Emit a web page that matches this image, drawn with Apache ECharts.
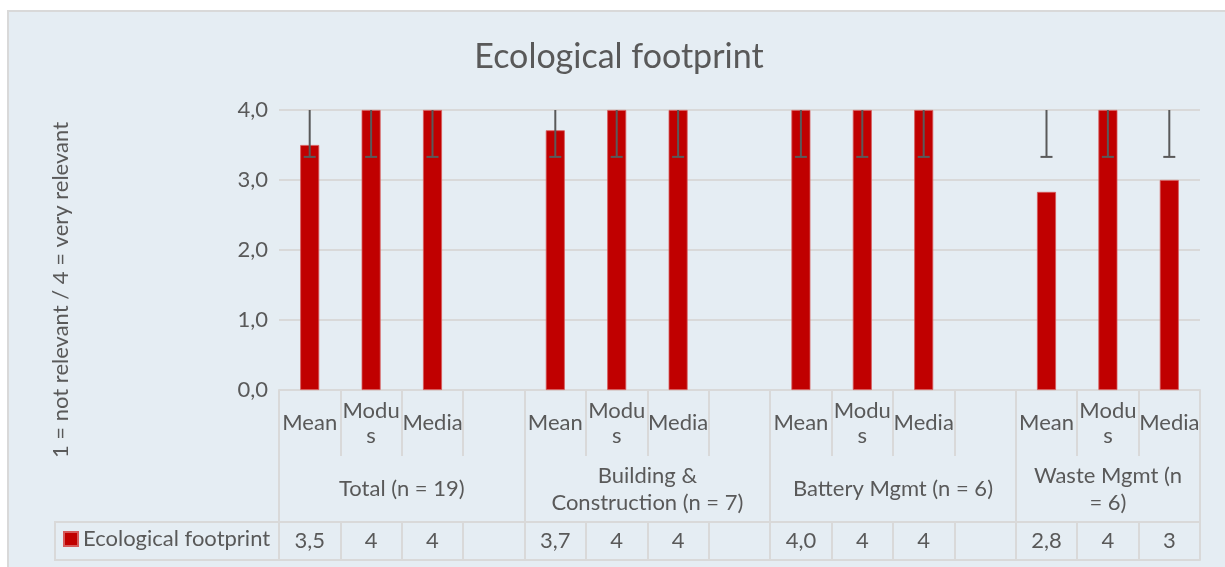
<!DOCTYPE html>
<html><head><meta charset="utf-8">
<script src="https://cdn.jsdelivr.net/npm/echarts@6/dist/echarts.min.js"></script>
<style>html,body{margin:0;padding:0;background:#fff}#c{width:1225px;height:567px}</style>
</head><body><div id="c"></div>
<script>
// ---- data ----
const titleText = 'Ecological footprint';
const yAxisTitle = '1 = not relevant / 4 = very relevant';
const seriesName = 'Ecological footprint';
const categories = ['Mean','Modus','Media','', 'Mean','Modus','Media','', 'Mean','Modus','Media','', 'Mean','Modus','Media'];
const groupNames = ['Total (n = 19)', 'Building &\nConstruction (n = 7)', 'Battery Mgmt (n = 6)', 'Waste Mgmt (n\n= 6)'];
const groupSizes = [4, 4, 4, 3];
const values  = [3.5, 4, 4, null, 3.71, 4, 4, null, 4.0, 4, 4, null, 2.83, 4, 3];
const errLow  = [3.33, 3.33, 3.33, null, 3.33, 3.33, 3.33, null, 3.33, 3.33, 3.33, null, 3.33, 3.33, 3.33];
const errHigh = [4, 4, 4, null, 4, 4, 4, null, 4, 4, 4, null, 4, 4, 4];
const yTicks = [0, 1, 2, 3, 4];

// ---- derived ----
const bounds = [0];
groupSizes.forEach(s => bounds.push(bounds[bounds.length - 1] + s));
const centers = groupSizes.map((s, i) => bounds[i] + s / 2);
const tableLabels = values.map((v, i) => v == null ? '' : (categories[i] === 'Mean' ? v.toFixed(1).replace('.', ',') : String(v)));
const errData = [];
categories.forEach((c, i) => { if (errLow[i] != null) errData.push([i, errLow[i], errHigh[i]]); });

const FONT = 'Lato';
const FS = 22;
const TXT = '#595959';
const LINE = '#D9D9D9';
const BG = '#E5EDF3';

const chart = echarts.init(document.getElementById('c'), null, {renderer: 'canvas'});
chart.setOption({
  backgroundColor: '#ffffff',
  animation: false,
  textStyle: {fontFamily: FONT},
  graphic: [
    {type: 'rect', z: -10, silent: true, shape: {x: 8, y: 11, width: 1240, height: 580},
     style: {fill: BG, stroke: LINE, lineWidth: 2}},
    {type: 'polyline', z: 10, silent: true, shape: {points: [[279, 522], [55, 522], [55, 560], [279, 560]]},
     style: {stroke: LINE, lineWidth: 2, fill: null}}
  ],
  title: {
    text: titleText, left: 619, textAlign: 'center', top: 40, padding: 0,
    textStyle: {fontFamily: FONT, fontSize: 34, fontWeight: 'normal', color: TXT}
  },
  legend: {
    data: [seriesName], left: 63, top: 528, padding: 0, icon: 'rect', itemWidth: 14, itemHeight: 14,
    textStyle: {fontFamily: FONT, fontSize: FS, color: TXT}
  },
  grid: {left: 279, right: 25, top: 110, bottom: 177, containLabel: false},
  xAxis: [
    {
      type: 'category', data: categories, position: 'bottom',
      axisLine: {show: true, lineStyle: {color: LINE, width: 2}},
      axisTick: {show: true, interval: 0, length: 66, lineStyle: {color: LINE, width: 2}},
      axisLabel: {interval: 0, margin: 33, verticalAlign: 'middle', color: TXT, fontFamily: FONT, fontSize: FS,
                  width: 63, overflow: 'breakAll', lineHeight: 25},
      splitLine: {show: false}
    },
    {
      type: 'value', min: 0, max: 15, position: 'bottom', offset: 66,
      axisLine: {show: false}, splitLine: {show: false},
      axisTick: {show: true, customValues: bounds, length: 66, lineStyle: {color: LINE, width: 2}},
      axisLabel: {customValues: centers, formatter: v => groupNames[centers.indexOf(v)] || '',
                  margin: 33, verticalAlign: 'middle', color: TXT, fontFamily: FONT, fontSize: FS, lineHeight: 27}
    },
    {
      type: 'category', data: tableLabels, position: 'bottom', offset: 132,
      axisLine: {show: true, lineStyle: {color: LINE, width: 2}},
      axisTick: {show: true, interval: 0, length: 38, lineStyle: {color: LINE, width: 2}},
      axisLabel: {interval: 0, margin: 19, verticalAlign: 'middle', color: TXT, fontFamily: FONT, fontSize: FS},
      splitLine: {show: false}
    },
    {
      type: 'category', data: categories, position: 'bottom', offset: 170,
      axisLine: {show: true, lineStyle: {color: LINE, width: 2}},
      axisTick: {show: false}, axisLabel: {show: false}, splitLine: {show: false}
    }
  ],
  yAxis: {
    type: 'value', min: yTicks[0], max: yTicks[yTicks.length - 1], interval: 1,
    axisLine: {show: false}, axisTick: {show: false},
    splitLine: {show: true, lineStyle: {color: LINE, width: 2}},
    axisLabel: {formatter: v => v.toFixed(1).replace('.', ','), color: TXT, fontFamily: FONT, fontSize: FS, margin: 11},
    name: yAxisTitle, nameLocation: 'middle', nameRotate: 90, nameGap: 207,
    nameTextStyle: {color: TXT, fontFamily: FONT, fontSize: FS, padding: [0, 80, 0, 0]}
  },
  series: [
    {
      name: seriesName, type: 'bar', xAxisIndex: 0, data: values, barWidth: 19,
      itemStyle: {color: '#C00000', borderColor: '#D65a5a', borderWidth: 0.8}, z: 2
    },
    {
      name: 'error', type: 'custom', xAxisIndex: 0, data: errData, z: 5,
      encode: {x: 0, y: [1, 2]},
      renderItem: (params, api) => {
        const lo = api.coord([api.value(0), api.value(1)]);
        const hi = api.coord([api.value(0), api.value(2)]);
        const st = {stroke: '#595959', lineWidth: 2};
        return {type: 'group', children: [
          {type: 'line', shape: {x1: lo[0], y1: lo[1], x2: hi[0], y2: hi[1]}, style: st},
          {type: 'line', shape: {x1: lo[0] - 6, y1: lo[1], x2: lo[0] + 6, y2: lo[1]}, style: st}
        ]};
      }
    }
  ]
});
</script></body></html>
